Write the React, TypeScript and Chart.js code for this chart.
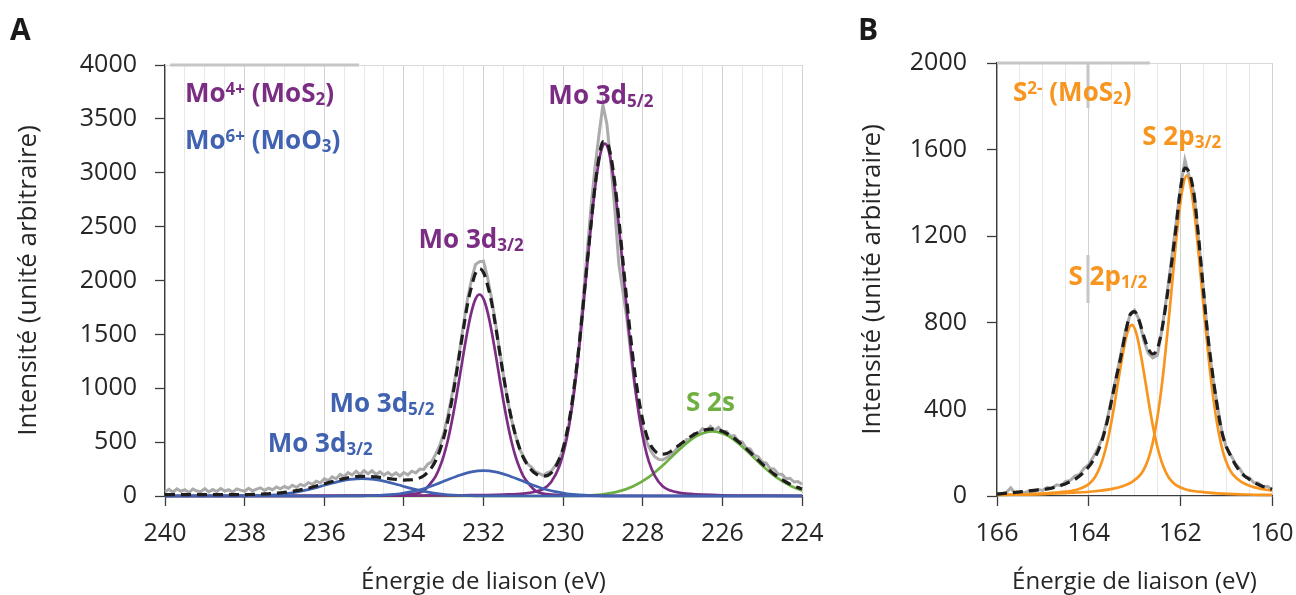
import React, { useEffect, useRef } from 'react';
import { Chart, registerables } from 'chart.js';

Chart.register(...registerables);

const FONT = '"Open Sans", "DejaVu Sans", sans-serif';
const PURPLE = '#7B2D83';
const BLUE = '#4062B0';
const GREEN = '#6FB043';
const ORANGE = '#F7951F';
const GREY = '#ABABAB';
const DASH = '#1E1E1E';
const AXIS = '#3c3c3c';
const TICK = '#262626';
const GRID_MAJOR = '#d2d2d2';
const GRID_MINOR = '#e8e8e8';

// ---------------- Panel A : Mo 3d ----------------
const xTicksA = [240, 238, 236, 234, 232, 230, 228, 226, 224];
const yStepA = 500;
const yMaxA = 4000;

// measured spectrum (grey) and fitted envelope (dashed), 0.1 eV sampling from 240 to 224 eV
const rawA = [
  40, 62, 35, 66, 44, 58, 32, 64, 46, 40,
  68, 38, 60, 42, 70, 46, 58, 36, 66, 54,
  44, 72, 48, 64, 76, 52, 72, 58, 84, 66,
  88, 72, 100, 80, 108, 94, 124, 108, 138, 122,
  160, 144, 178, 160, 200, 180, 216, 195, 230, 200,
  236, 206, 234, 200, 224, 194, 218, 190, 214, 186,
  218, 196, 230, 214, 250, 246, 295, 318, 390, 468,
  580, 740, 920, 1120, 1350, 1600, 1830, 2010, 2150, 2175,
  2180, 2030, 1840, 1610, 1360, 1120, 900, 715, 570, 440,
  370, 300, 268, 225, 210, 190, 215, 230, 280, 340,
  430, 580, 780, 1060, 1400, 1820, 2250, 2680, 3050, 3350,
  3630, 3450, 3080, 2650, 2150, 1900, 1650, 1320, 1020, 800,
  640, 500, 420, 365, 340, 335, 355, 380, 415, 460,
  465, 525, 525, 580, 580, 625, 605, 645, 610, 635,
  595, 600, 555, 560, 510, 500, 445, 435, 380, 365,
  315, 305, 255, 250, 205, 200, 160, 165, 130, 135,
  110,
];
const envelopeA = [
  12, 12, 12, 12, 12, 12, 12, 12, 12, 12,
  12, 12, 12, 12, 12, 12, 12, 12, 13, 13,
  13, 14, 15, 16, 18, 19, 21, 23, 26, 29,
  33, 38, 44, 50, 57, 65, 73, 83, 93, 103,
  114, 124, 134, 144, 153, 161, 169, 175, 179, 182,
  183, 182, 180, 177, 173, 168, 163, 158, 154, 150,
  148, 149, 151, 157, 168, 188, 221, 265, 330, 420,
  540, 695, 877, 1090, 1324, 1560, 1784, 1945, 2068, 2110,
  2075, 1960, 1803, 1585, 1349, 1120, 907, 720, 569, 450,
  357, 292, 243, 210, 190, 185, 189, 215, 264, 340,
  444, 600, 806, 1080, 1392, 1760, 2148, 2520, 2873, 3140,
  3288, 3280, 3153, 2900, 2567, 2190, 1811, 1460, 1149, 900,
  702, 560, 472, 420, 392, 388, 394, 413, 441, 468,
  496, 523, 550, 573, 592, 606, 616, 620, 620, 612,
  600, 582, 561, 535, 506, 474, 440, 405, 368, 333,
  298, 265, 233, 203, 176, 152, 130, 110, 93, 78,
  66,
];
const energyA = rawA.map((_, i) => Math.round((240 - i * 0.1) * 100) / 100);

// Mo4+ (MoS2) 3d5/2
const mo4d52E = [240, 236, 234, 233, 232.5, 232, 231.5, 231, 230.7, 230.5, 230.3, 230.1, 229.95, 229.85, 229.75, 229.65, 229.55, 229.45, 229.35, 229.25, 229.15, 229.05, 228.95, 228.85, 228.75, 228.65, 228.55, 228.45, 228.35, 228.25, 228.15, 228.05, 227.95, 227.85, 227.7, 227.5, 227.3, 227.1, 226.8, 226.5, 226, 225, 224];
const mo4d52I = [0, 1, 3, 5, 7, 9, 13, 22, 40, 65, 130, 271, 464, 651, 893, 1194, 1540, 1926, 2318, 2688, 2992, 3198, 3270, 3198, 2992, 2688, 2318, 1926, 1540, 1194, 893, 651, 464, 324, 190, 90, 50, 32, 19, 12, 6, 3, 1];
// Mo4+ (MoS2) 3d3/2
const mo4d32E = [240, 237, 236, 235, 234.5, 234, 233.7, 233.5, 233.3, 233.2, 233.1, 233.0, 232.9, 232.8, 232.7, 232.6, 232.5, 232.4, 232.3, 232.2, 232.1, 232.0, 231.9, 231.8, 231.7, 231.6, 231.5, 231.4, 231.3, 231.2, 231.1, 231.0, 230.9, 230.7, 230.5, 230.3, 230.0, 229.5, 229, 228, 226, 224];
const mo4d32I = [0, 1, 2, 4, 7, 13, 22, 50, 131, 185, 266, 372, 511, 683, 881, 1101, 1326, 1537, 1711, 1829, 1870, 1829, 1711, 1537, 1326, 1101, 881, 683, 511, 372, 266, 185, 131, 50, 22, 13, 7, 4, 2, 1, 0, 0];
// Mo6+ (MoO3) 3d3/2
const mo6d32E = [240, 238.5, 238.05, 237.75, 237.45, 237.15, 236.85, 236.55, 236.25, 235.95, 235.65, 235.35, 235.05, 234.75, 234.45, 234.15, 233.85, 233.55, 233.25, 232.95, 232.65, 232.35, 232.05, 230, 224];
const mo6d32I = [0, 0, 1, 3, 7, 14, 27, 47, 73, 104, 133, 154, 162, 154, 133, 104, 73, 47, 27, 14, 7, 3, 1, 0, 0];
// Mo6+ (MoO3) 3d5/2
const mo6d52E = [240, 236, 235.0, 234.7, 234.4, 234.1, 233.8, 233.5, 233.2, 232.9, 232.6, 232.3, 232.0, 231.7, 231.4, 231.1, 230.8, 230.5, 230.2, 229.9, 229.6, 229.3, 229.0, 228.5, 224];
const mo6d52I = [0, 0, 2, 4, 10, 21, 40, 68, 106, 151, 193, 224, 235, 224, 193, 151, 106, 68, 40, 21, 10, 4, 2, 0, 0];
// S 2s
const s2sE = [240, 231, 230.25, 229.85, 229.45, 229.05, 228.65, 228.25, 227.85, 227.45, 227.05, 226.65, 226.25, 225.85, 225.45, 225.05, 224.65, 224.25, 224];
const s2sI = [0, 0, 0, 1, 4, 14, 38, 88, 175, 300, 441, 556, 600, 556, 441, 300, 175, 88, 52];

// ---------------- Panel B : S 2p ----------------
const xTicksB = [166, 164, 162, 160];
const yStepB = 400;
const yMaxB = 2000;

const rawB = [
  12, 8, 15, 38, 10, 20, 14, 24, 18, 30,
  26, 40, 35, 52, 48, 68, 72, 92, 100, 128,
  145, 180, 220, 270, 350, 450, 548, 655, 760, 835,
  858, 815, 720, 660, 638, 650, 770, 920, 1080, 1250,
  1420, 1552, 1470, 1400, 1180, 965, 735, 560, 430, 305,
  225, 190, 150, 125, 90, 85, 62, 60, 42, 45,
  30,
];
const envelopeB = [
  9, 11, 13, 15, 17, 19, 22, 24, 26, 28,
  30, 33, 37, 43, 50, 57, 66, 77, 92, 112,
  135, 165, 205, 262, 340, 440, 545, 640, 750, 835,
  852, 810, 740, 680, 656, 680, 770, 905, 1060, 1230,
  1413, 1515, 1490, 1390, 1190, 960, 740, 570, 420, 300,
  230, 185, 145, 115, 93, 78, 64, 53, 44, 37,
  31,
];
const energyB = rawB.map((_, i) => Math.round((166 - i * 0.1) * 100) / 100);

// S 2p3/2
const s2p32E = [166, 165, 164.36, 163.86, 163.46, 163.26, 163.06, 162.86, 162.76, 162.66, 162.56, 162.46, 162.36, 162.26, 162.16, 162.06, 161.96, 161.86, 161.76, 161.66, 161.56, 161.46, 161.36, 161.26, 161.16, 161.06, 160.96, 160.86, 160.66, 160.46, 160.26, 160.06, 160];
const s2p32I = [6, 9, 15, 22, 34, 45, 64, 101, 138, 197, 290, 420, 592, 800, 1025, 1246, 1410, 1480, 1410, 1246, 1025, 800, 592, 420, 290, 197, 138, 101, 64, 45, 34, 27, 25];
// S 2p1/2
const s2p12E = [166, 165.56, 165.06, 164.66, 164.26, 164.06, 163.96, 163.86, 163.76, 163.66, 163.56, 163.46, 163.36, 163.26, 163.16, 163.06, 162.96, 162.86, 162.76, 162.66, 162.56, 162.46, 162.36, 162.26, 162.16, 162.06, 161.86, 161.46, 161.06, 160.56, 160];
const s2p12I = [5, 7, 11, 17, 29, 46, 62, 88, 130, 194, 282, 395, 525, 650, 751, 790, 751, 650, 525, 395, 282, 194, 130, 88, 62, 46, 29, 17, 11, 7, 5];

// ---------------- annotations ----------------
type Part = { t: string; s?: 'sup' | 'sub' };
type Note = { parts: Part[]; x: number; y: number; color: string; align: 'left' | 'center' };

const notesA: Note[] = [
  { parts: [{ t: 'Mo' }, { t: '4+', s: 'sup' }, { t: ' (MoS' }, { t: '2', s: 'sub' }, { t: ')' }], x: 239.5, y: 3657, color: PURPLE, align: 'left' },
  { parts: [{ t: 'Mo' }, { t: '6+', s: 'sup' }, { t: ' (MoO' }, { t: '3', s: 'sub' }, { t: ')' }], x: 239.5, y: 3220, color: BLUE, align: 'left' },
  { parts: [{ t: 'Mo 3d' }, { t: '5/2', s: 'sub' }], x: 229.05, y: 3638, color: PURPLE, align: 'center' },
  { parts: [{ t: 'Mo 3d' }, { t: '3/2', s: 'sub' }], x: 232.31, y: 2302, color: PURPLE, align: 'center' },
  { parts: [{ t: 'Mo 3d' }, { t: '5/2', s: 'sub' }], x: 234.55, y: 780, color: BLUE, align: 'center' },
  { parts: [{ t: 'Mo 3d' }, { t: '3/2', s: 'sub' }], x: 236.1, y: 408, color: BLUE, align: 'center' },
  { parts: [{ t: 'S 2s' }], x: 226.3, y: 789, color: GREEN, align: 'center' },
];
const notesB: Note[] = [
  { parts: [{ t: 'S' }, { t: '2-', s: 'sup' }, { t: ' (MoS' }, { t: '2', s: 'sub' }, { t: ')' }], x: 165.65, y: 1824, color: ORANGE, align: 'left' },
  { parts: [{ t: 'S 2p' }, { t: '3/2', s: 'sub' }], x: 161.97, y: 1621, color: ORANGE, align: 'center' },
  { parts: [{ t: 'S 2p' }, { t: '1/2', s: 'sub' }], x: 163.58, y: 975, color: ORANGE, align: 'center' },
];

function drawRich(ctx: CanvasRenderingContext2D, n: Note, px: number, py: number, size: number) {
  const small = Math.round(size * 0.66);
  const fontFor = (p: Part) => `bold ${p.s ? small : size}px ${FONT}`;
  let total = 0;
  const widths = n.parts.map((p) => {
    ctx.font = fontFor(p);
    const w = ctx.measureText(p.t).width;
    total += w;
    return w;
  });
  let cx = n.align === 'center' ? px - total / 2 : px;
  ctx.fillStyle = n.color;
  ctx.textAlign = 'left';
  ctx.textBaseline = 'alphabetic';
  n.parts.forEach((p, i) => {
    ctx.font = fontFor(p);
    const dy = p.s === 'sup' ? -size * 0.26 : p.s === 'sub' ? size * 0.13 : 0;
    ctx.fillText(p.t, cx, py + dy);
    cx += widths[i];
  });
}

const pts = (xs: number[], ys: number[]) => xs.map((x, i) => ({ x, y: ys[i] }));

const line = (label: string, data: any[], color: string, width: number, extra: any = {}) => ({
  label,
  data,
  borderColor: color,
  backgroundColor: color,
  borderWidth: width,
  pointRadius: 0,
  fill: false,
  cubicInterpolationMode: 'monotone',
  clip: 6,
  ...extra,
});

interface Panel {
  letter: string;
  letterX: number;
  xMin: number;
  xMax: number;
  xMajor: number[];
  yMax: number;
  yStep: number;
  yWidth: number;
  yTickPad: number;
  yTitlePad: number;
  padTop: number;
  padRight: number;
  marks: number[][];
  notes: Note[];
  datasets: any[];
}

const COMP_W = 2.7;

const panelA: Panel = {
  letter: 'A', letterX: 10, xMin: 224, xMax: 240, xMajor: xTicksA, yMax: yMaxA, yStep: yStepA,
  yWidth: 165, yTickPad: 18, yTitlePad: 16, padTop: 65, padRight: 28,
  marks: [[5, 0, 194, 0]],
  notes: notesA,
  datasets: [
    line('Enveloppe', pts(energyA, envelopeA), DASH, 3.2, { borderDash: [10, 6] }),
    line('Mo6+ 3d3/2', pts(mo6d32E, mo6d32I), BLUE, COMP_W),
    line('Mo6+ 3d5/2', pts(mo6d52E, mo6d52I), BLUE, COMP_W),
    line('Mo4+ 3d3/2', pts(mo4d32E, mo4d32I), PURPLE, COMP_W),
    line('Mo4+ 3d5/2', pts(mo4d52E, mo4d52I), PURPLE, COMP_W),
    line('S 2s', pts(s2sE, s2sI), GREEN, COMP_W),
    line('Mesure', pts(energyA, rawA), GREY, 3, { cubicInterpolationMode: 'default', tension: 0 }),
  ],
};

const panelB: Panel = {
  letter: 'B', letterX: 28, xMin: 160, xMax: 166, xMajor: xTicksB, yMax: yMaxB, yStep: yStepB,
  yWidth: 167, yTickPad: 20, yTitlePad: 30, padTop: 63, padRight: 24,
  marks: [[0, 0, 153, 0], [91, 0, 91, 45], [91, 192, 91, 240]],
  notes: notesB,
  datasets: [
    line('Enveloppe', pts(energyB, envelopeB), DASH, 3.2, { borderDash: [10, 6] }),
    line('S 2p3/2', pts(s2p32E, s2p32I), ORANGE, COMP_W),
    line('S 2p1/2', pts(s2p12E, s2p12I), ORANGE, COMP_W),
    line('Mesure', pts(energyB, rawB), GREY, 3, { cubicInterpolationMode: 'default', tension: 0 }),
  ],
};

function buildChart(canvas: HTMLCanvasElement, p: Panel) {
  const isMaj = (c: any) => !!c.tick && p.xMajor.includes(Math.round(c.tick.value * 100) / 100);
  const overlay = {
    id: 'overlay' + p.letter,
    beforeDatasetsDraw(chart: any) {
      const { ctx, chartArea: a } = chart;
      ctx.save();
      ctx.strokeStyle = '#d9d9d9';
      ctx.lineWidth = 1;
      ctx.beginPath();
      ctx.moveTo(a.left, a.top + 0.5);
      ctx.lineTo(a.right, a.top + 0.5);
      ctx.stroke();
      ctx.strokeStyle = '#c6c6c6';
      ctx.lineWidth = 3;
      p.marks.forEach((m) => {
        ctx.beginPath();
        ctx.moveTo(a.left + m[0], a.top + m[1]);
        ctx.lineTo(a.left + m[2], a.top + m[3]);
        ctx.stroke();
      });
      ctx.restore();
    },
    afterDatasetsDraw(chart: any) {
      const { ctx, scales } = chart;
      ctx.save();
      p.notes.forEach((n) => drawRich(ctx, n, scales.x.getPixelForValue(n.x), scales.y.getPixelForValue(n.y), 26));
      ctx.font = `bold 30px ${FONT}`;
      ctx.fillStyle = '#1a1a1a';
      ctx.textAlign = 'left';
      ctx.textBaseline = 'alphabetic';
      ctx.fillText(p.letter, p.letterX, 40);
      ctx.restore();
    },
  };
  return new Chart(canvas, {
    type: 'line',
    data: { datasets: p.datasets },
    plugins: [overlay],
    options: {
      animation: false,
      responsive: false,
      maintainAspectRatio: false,
      devicePixelRatio: 1,
      events: [],
      layout: { padding: { left: 0, top: p.padTop, right: p.padRight, bottom: 0 } },
      plugins: { legend: { display: false }, tooltip: { enabled: false } },
      scales: {
        x: {
          type: 'linear',
          reverse: true,
          min: p.xMin,
          max: p.xMax,
          afterFit: (s: any) => {
            s.height = 99;
            s.paddingLeft = 0;
            s.paddingRight = 0;
          },
          ticks: {
            stepSize: 0.5,
            autoSkip: false,
            maxRotation: 0,
            minRotation: 0,
            padding: 13,
            color: TICK,
            font: { family: FONT, size: 25 },
            callback: (v: any) => (p.xMajor.includes(Math.round(Number(v) * 100) / 100) ? String(v) : ''),
          },
          grid: {
            lineWidth: 1,
            tickLength: 10,
            tickWidth: 1.3,
            color: (c: any) => (isMaj(c) ? GRID_MAJOR : GRID_MINOR),
            tickColor: (c: any) => (isMaj(c) ? AXIS : 'rgba(0,0,0,0)'),
          },
          border: { color: AXIS, width: 1.3 },
          title: {
            display: true,
            text: 'Énergie de liaison (eV)',
            color: TICK,
            font: { family: FONT, size: 24, lineHeight: 1 },
            padding: { top: 0, bottom: 1 },
          },
        },
        y: {
          type: 'linear',
          min: 0,
          max: p.yMax,
          afterFit: (s: any) => {
            s.width = p.yWidth;
            s.paddingTop = 0;
            s.paddingBottom = 0;
          },
          ticks: {
            stepSize: p.yStep,
            padding: p.yTickPad,
            color: TICK,
            font: { family: FONT, size: 25 },
            callback: (v: any) => String(v),
          },
          grid: { drawOnChartArea: false, tickLength: 10, tickWidth: 1.3, tickColor: AXIS },
          border: { color: AXIS, width: 1.3 },
          title: {
            display: true,
            text: 'Intensité (unité arbitraire)',
            color: TICK,
            font: { family: FONT, size: 26, lineHeight: 1 },
            padding: { top: p.yTitlePad, bottom: 0 },
          },
        },
      },
    } as any,
  });
}

export default function App() {
  const refA = useRef<HTMLCanvasElement>(null);
  const refB = useRef<HTMLCanvasElement>(null);
  useEffect(() => {
    const a = buildChart(refA.current as HTMLCanvasElement, panelA);
    const b = buildChart(refB.current as HTMLCanvasElement, panelB);
    return () => {
      a.destroy();
      b.destroy();
    };
  }, []);
  return (
    <div style={{ position: 'fixed', left: 0, top: 0, width: 1296, height: 595, background: '#fff', overflow: 'hidden' }}>
      <canvas ref={refA} width={830} height={595} style={{ position: 'absolute', left: 0, top: 0, width: 830, height: 595 }} />
      <canvas ref={refB} width={466} height={595} style={{ position: 'absolute', left: 830, top: 0, width: 466, height: 595 }} />
    </div>
  );
}
